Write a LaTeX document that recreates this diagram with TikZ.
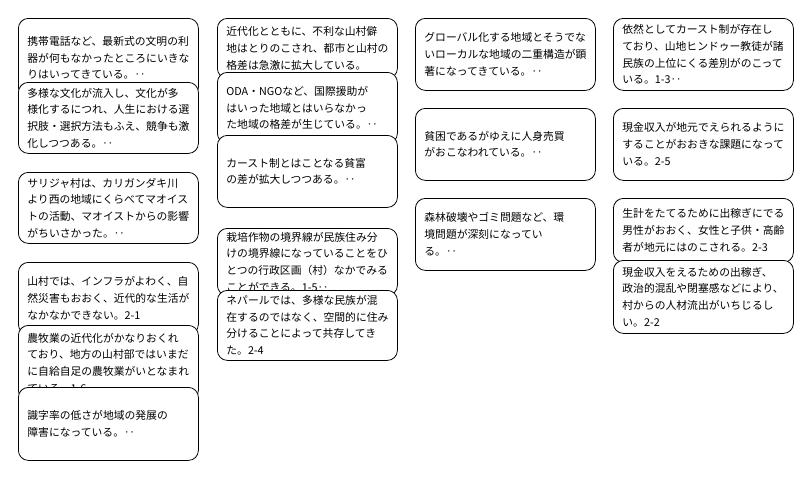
\documentclass[tikz,border=0pt]{standalone}
\usepackage{fontspec}
\newfontfamily\jpfont{Noto Sans CJK JP}
\begin{document}
\begin{tikzpicture}[x=1pt,y=-1pt,
  box/.style={draw=black, fill=white, rounded corners=10pt, line width=0.8pt,
    minimum width=180pt, text width=162pt, align=left, inner xsep=0pt, inner ysep=0pt,
    anchor=north west, font=\jpfont\fontsize{10.8}{16.7}\selectfont}]
\useasboundingbox[fill=white] (0,0) rectangle (810,477);
% column 1
\node[box, minimum height=79pt] (b1) at (18,18) {携帯電話など、最新式の文明の利\\器が何もなかったところにいきな\\りはいってきている。‥};
\node[box, minimum height=71pt] (b2) at (18,82) {多様な文化が流入し、文化が多\\様化するにつれ、人生における選\\択肢・選択方法もふえ、競争も激\\化しつつある。‥};
\node[box, minimum height=71pt] (b3) at (18,172) {サリジャ村は、カリガンダキ川\\より西の地域にくらべてマオイス\\トの活動、マオイストからの影響\\がちいさかった。‥};
\node[box, minimum height=72pt] (b4) at (18,262) {山村では、インフラがよわく、自\\然災害もおおく、近代的な生活が\\なかなかできない。2-1};
\node[box, minimum height=75pt] (b5) at (18,325) {農牧業の近代化がかなりおくれ\\ており、地方の山村部ではいまだ\\に自給自足の農牧業がいとなまれ\\ている。1-6‥};
\node[box, minimum height=73pt] (b6) at (18,387) {識字率の低さが地域の発展の\\障害になっている。‥};
% column 2
\node[box, minimum height=60pt] (b7) at (217,18) {近代化とともに、不利な山村僻\\地はとりのこされ、都市と山村の\\格差は急激に拡大している。};
\node[box, minimum height=71pt] (b8) at (217,72) {ODA・NGOなど、国際援助が\\はいった地域とはいらなかっ\\た地域の格差が生じている。‥};
\node[box, minimum height=72pt] (b9) at (217,135) {カースト制とはことなる貧富\\の差が拡大しつつある。‥};
\node[box, minimum height=67pt] (b10) at (217,228) {栽培作物の境界線が民族住み分\\けの境界線になっていることをひ\\とつの行政区画（村）なかでみる\\ことができる。1-5‥};
\node[box, minimum height=70pt] (b11) at (217,290) {ネパールでは、多様な民族が混\\在するのではなく、空間的に住み\\分けることによって共存してき\\た。2-4};
% column 3
\node[box, minimum height=72pt] (b12) at (415,18) {グローバル化する地域とそうでな\\いローカルな地域の二重構造が顕\\著になってきている。‥};
\node[box, minimum height=72pt] (b13) at (415,108) {貧困であるがゆえに人身売買\\がおこなわれている。‥};
\node[box, minimum height=72pt] (b14) at (415,198) {森林破壊やゴミ問題など、環\\境問題が深刻になってい\\る。‥};
% column 4
\node[box, minimum height=72pt] (b15) at (613,18) {依然としてカースト制が存在し\\ており、山地ヒンドゥー教徒が諸\\民族の上位にくる差別がのこって\\いる。1-3‥};
\node[box, minimum height=72pt] (b16) at (613,108) {現金収入が地元でえられるように\\することがおおきな課題になって\\いる。2-5};
\node[box, minimum height=64pt] (b17) at (613,198) {生計をたてるために出稼ぎにでる\\男性がおおく、女性と子供・高齢\\者が地元にはのこされる。2-3};
\node[box, minimum height=73pt] (b18) at (613,260) {現金収入をえるための出稼ぎ、\\政治的混乱や閉塞感などにより、\\村からの人材流出がいちじるし\\い。2-2};
\end{tikzpicture}
\end{document}
